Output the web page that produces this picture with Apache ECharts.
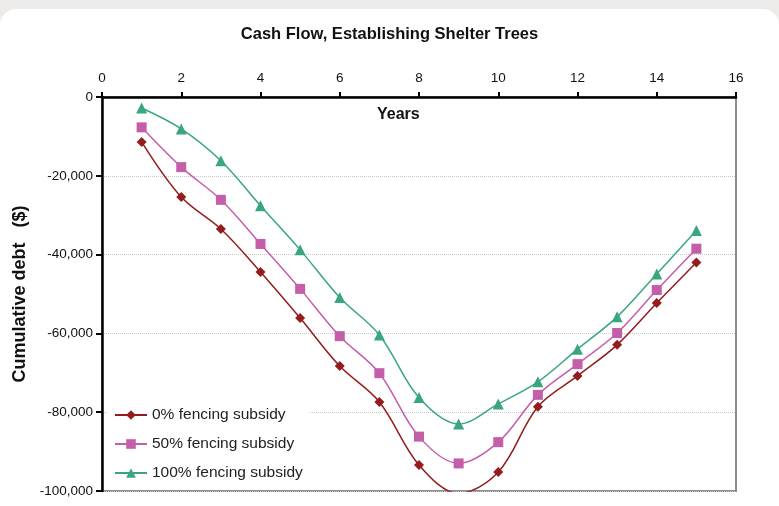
<!DOCTYPE html>
<html>
<head>
<meta charset="utf-8">
<script src="https://cdn.jsdelivr.net/npm/echarts@6/dist/echarts.min.js"></script>
<style>
  html, body { margin: 0; padding: 0; background: #ecebe9; }
  .card { position: absolute; left: 0; top: 9px; width: 779px; height: 497px; background: #fff; border-radius: 16px 16px 0 0; }
  #chart { position: absolute; left: 0; top: 0; width: 779px; height: 506px; }
</style>
</head>
<body>
<div class="card"></div>
<div id="chart"></div>
<script>
// years 1..15
const years = [1, 2, 3, 4, 5, 6, 7, 8, 9, 10, 11, 12, 13, 14, 15];
const subsidy0 = [-11400, -25400, -33500, -44400, -56100, -68300, -77400, -93400, -100600, -95200, -78600, -70800, -62900, -52300, -42000];
const subsidy50 = [-7700, -17800, -26100, -37300, -48700, -60700, -70100, -86200, -93000, -87600, -75600, -67800, -59900, -49000, -38500];
const subsidy100 = [-2800, -8100, -16200, -27600, -38800, -50900, -60400, -76300, -83000, -77900, -72300, -64000, -55800, -44900, -33900];
const xTicks = [0, 2, 4, 6, 8, 10, 12, 14, 16];

const font = 'Liberation Sans, Arial, sans-serif';

function pairs(values) {
  return years.map((x, i) => [x, values[i]]);
}

function makeSeries(name, values, color, symbol, size) {
  return {
    name,
    type: 'line',
    data: pairs(values),
    smooth: 0.35,
    symbol,
    symbolSize: size,
    showAllSymbol: true,
    clip: true,
    lineStyle: { color, width: 1.5 },
    itemStyle: { color, borderColor: color, borderWidth: 0 },
    emphasis: { disabled: true },
    animation: false,
  };
}

const chart = echarts.init(document.getElementById('chart'));
chart.setOption({
  backgroundColor: 'transparent',
  title: {
    text: 'Cash Flow, Establishing Shelter Trees',
    left: 'center',
    top: 21,
    textStyle: { fontFamily: font, fontSize: 16.5, fontWeight: 'bold', color: '#111' },
  },
  grid: {
    left: 102,
    right: 43,
    top: 97,
    bottom: 15,
    show: true,
    borderColor: '#8c8c8c',
    borderWidth: 2,
    backgroundColor: 'transparent',
  },
  xAxis: {
    type: 'value',
    position: 'top',
    min: 0,
    max: 16,
    interval: 2,
    axisLine: { show: true, onZero: false, lineStyle: { color: '#000', width: 2.5 } },
    axisTick: { show: true, inside: false, length: 5, lineStyle: { color: '#000', width: 2 } },
    axisLabel: {
      color: '#111',
      fontFamily: font,
      fontSize: 13.5,
      margin: 12,
      formatter: (v) => xTicks.includes(v) ? String(v) : '',
    },
    splitLine: { show: false },
  },
  yAxis: {
    type: 'value',
    min: -100000,
    max: 0,
    interval: 20000,
    name: 'Cumulative debt   ($)',
    nameLocation: 'middle',
    nameRotate: 90,
    nameGap: 73,
    nameTextStyle: { fontFamily: font, fontSize: 18, fontWeight: 'bold', color: '#111' },
    axisLine: { show: true, onZero: false, lineStyle: { color: '#000', width: 2.5 } },
    axisTick: { show: true, inside: false, length: 6, lineStyle: { color: '#000', width: 2 } },
    axisLabel: {
      color: '#111',
      fontFamily: font,
      fontSize: 13.5,
      margin: 9,
      formatter: (v) => v === 0 ? '0' : '-' + Math.abs(v).toLocaleString('en-US'),
    },
    splitLine: { show: true, lineStyle: { color: '#c8c8c8', type: 'dotted', width: 1 } },
  },
  legend: {
    orient: 'vertical',
    left: 108,
    top: 403,
    itemGap: 13,
    itemWidth: 32,
    itemHeight: 12,
    backgroundColor: '#fff',
    padding: [4, 6, 4, 6],
    textStyle: { fontFamily: font, fontSize: 15.5, color: '#222' },
    data: ['0% fencing subsidy', '50% fencing subsidy', '100% fencing subsidy'],
  },
  graphic: [
    {
      type: 'text',
      left: 377,
      top: 107,
      style: { text: 'Years', font: 'bold 16px Liberation Sans, Arial, sans-serif', fill: '#111' },
    },
  ],
  series: [
    makeSeries('0% fencing subsidy', subsidy0, '#941c1e', 'diamond', 10),
    makeSeries('50% fencing subsidy', subsidy50, '#c45ea8', 'rect', 10),
    makeSeries('100% fencing subsidy', subsidy100, '#3aa67e', 'triangle', 11),
  ],
});
</script>
</body>
</html>
